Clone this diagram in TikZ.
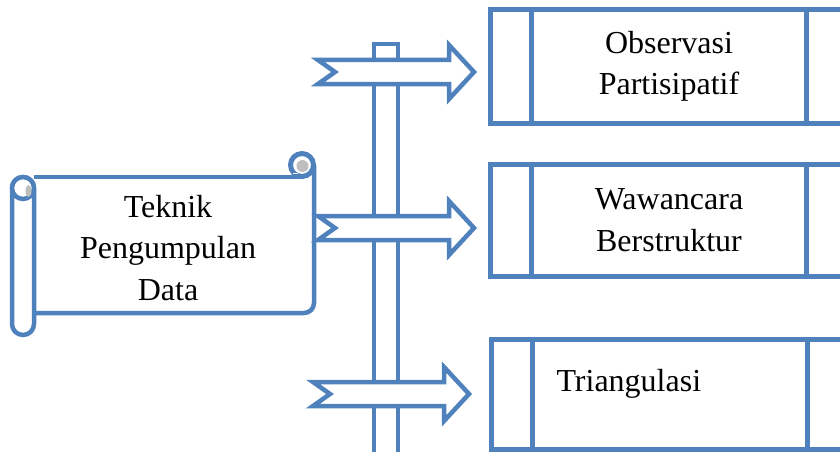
\documentclass[tikz,border=0pt]{standalone}
\usepackage{fontspec}
\setmainfont{Liberation Serif}
\usetikzlibrary{positioning}
\definecolor{wordblue}{RGB}{79,129,189}
\definecolor{curlgray}{RGB}{190,190,190}
\tikzset{
  outline/.style = {draw=wordblue, line width=4.5pt, fill=white},
  procbox/.style = {outline, rectangle, line width=5pt, minimum width=358pt,
    minimum height=112pt, inner sep=0pt},% kotak proses
  boxtext/.style = {align=center, font=\fontsize{32}{41.5}\selectfont},
  signarrow/.pic = {
    \draw[outline, line join=miter] (0,-12) -- (131,-12) -- (131,-27) -- (156,0)
      -- (131,27) -- (131,12) -- (0,12) -- (17,0) -- cycle;
  }% panah papan penunjuk
}

\begin{document}
\begin{tikzpicture}[x=1pt, y=-1pt]
  \clip (0,0) rectangle (840,452);
  % tiang dan panah
  \draw[outline] (374,44) rectangle (398,470);
  \pic at (318,72) {signarrow};
  \pic at (318,228) {signarrow};
  \pic at (313,394) {signarrow};
  % gulungan
  \draw[outline, fill=none] (34,177) -- (302,177);
  \draw[outline, fill=none, rounded corners=10pt] (314,165) -- (314,313) -- (34,313);
  \draw[outline, rounded corners=11pt] (12,177) rectangle (34,335);
  \draw[outline, line width=5pt] (302,165) circle[radius=11.5pt];
  \fill[curlgray] (302.5,166) circle[radius=6pt];
  \draw[white, line width=1pt] (293,173) -- (298,173);
  \draw[outline] (23,188) circle[radius=11pt];
  \fill[curlgray] (28.5,191) ellipse[x radius=3pt, y radius=6pt];
  \node[boxtext] (judul) at (168,248) {Teknik\\Pengumpulan\\Data};
  % kotak teknik
  \node[procbox, boxtext, minimum height=113pt] (obs) at (669,66.5) {Observasi\\Partisipatif};
  \node[procbox, boxtext] (waw) at (669,220) {Wawancara\\Berstruktur};
  \node[procbox, minimum height=110pt] (tri) at (670,394) {};
  \node[boxtext, anchor=base west] (trilabel) at (553,391) {Triangulasi};
  \foreach \b in {obs,waw,tri} {
    \draw[outline, line width=5pt] ([xshift=44pt]\b.north west) -- ([xshift=44pt]\b.south west);
    \draw[outline, line width=5pt] ([xshift=-44pt]\b.north east) -- ([xshift=-44pt]\b.south east);
  }
\end{tikzpicture}
\end{document}
